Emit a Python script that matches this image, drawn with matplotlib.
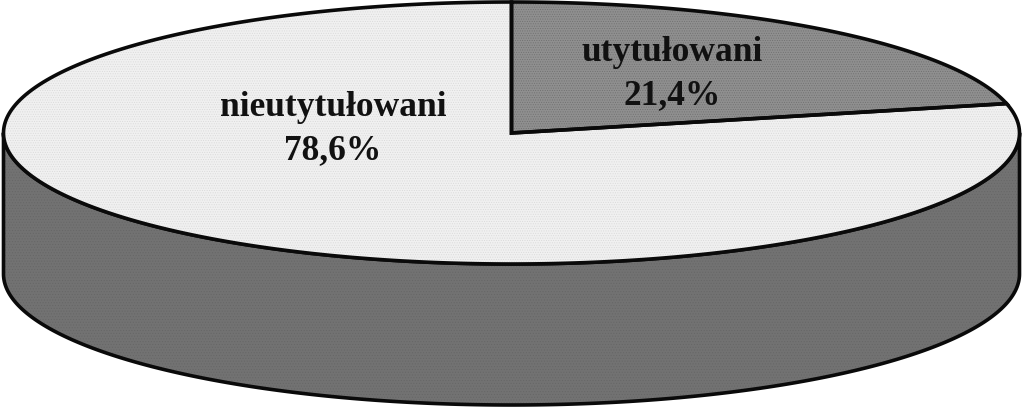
import numpy as np
import matplotlib
matplotlib.use("Agg")
import matplotlib.pyplot as plt
from matplotlib.patches import Polygon

categories = ["utytułowani", "nieutytułowani"]
shares = [21.4, 78.6]
value_labels = ["21,4%", "78,6%"]

plt.rcParams['font.family'] = ['Liberation Serif', 'DejaVu Serif']
plt.rcParams['hatch.linewidth'] = 0.4

cx, cy, a, b, depth = 511.5, 134, 508, 131, 141
INK = '#0a0a0a'
LW = 2.6

fig = plt.figure(figsize=(10.23, 4.10), dpi=100, facecolor='white')
ax = fig.add_axes([0, 0, 1, 1])
ax.set_xlim(0, 1023)
ax.set_ylim(410, 0)
ax.axis('off')


def rim(t0, t1, n=300, dy=0):
    t = np.radians(np.linspace(t0, t1, n))
    return np.column_stack([cx + a * np.cos(t), cy + dy - b * np.sin(t)])


# side wall (lower half of the rim extruded downward)
side = np.vstack([rim(180, 360), rim(360, 180, dy=depth)])
ax.add_patch(Polygon(side, closed=True, facecolor='#727272', edgecolor='#666666',
                     hatch='......', lw=0, zorder=1))
ax.add_patch(Polygon(side, closed=True, fill=False, edgecolor=INK, lw=LW, zorder=2,
                     joinstyle='round'))

# slices run clockwise from 12 o'clock
angle = 90.0
styles = [('#8f8f8f', '#6f6f6f', '.......'), ('#f0f0f0', '#d8d8d8', '.......')]
for share, (fc, hc, h) in zip(shares, styles):
    end = angle - share / 100 * 360
    pts = np.vstack([[cx, cy], rim(angle, end)])
    ax.add_patch(Polygon(pts, closed=True, facecolor=fc, edgecolor=hc, hatch=h, lw=0, zorder=3))
    ax.add_patch(Polygon(pts, closed=True, fill=False, edgecolor=INK, lw=LW, zorder=4,
                         joinstyle='miter'))
    angle = end

txt = dict(ha='center', va='center', fontsize=25.5, fontweight='bold', color='#111111',
           linespacing=1.37, zorder=5)
ax.text(672, 74, f"{categories[0]}\n{value_labels[0]}", **txt)
ax.text(333, 129, f"{categories[1]}\n{value_labels[1]}", **txt)

fig.savefig('out.png', dpi=100, facecolor='white')
